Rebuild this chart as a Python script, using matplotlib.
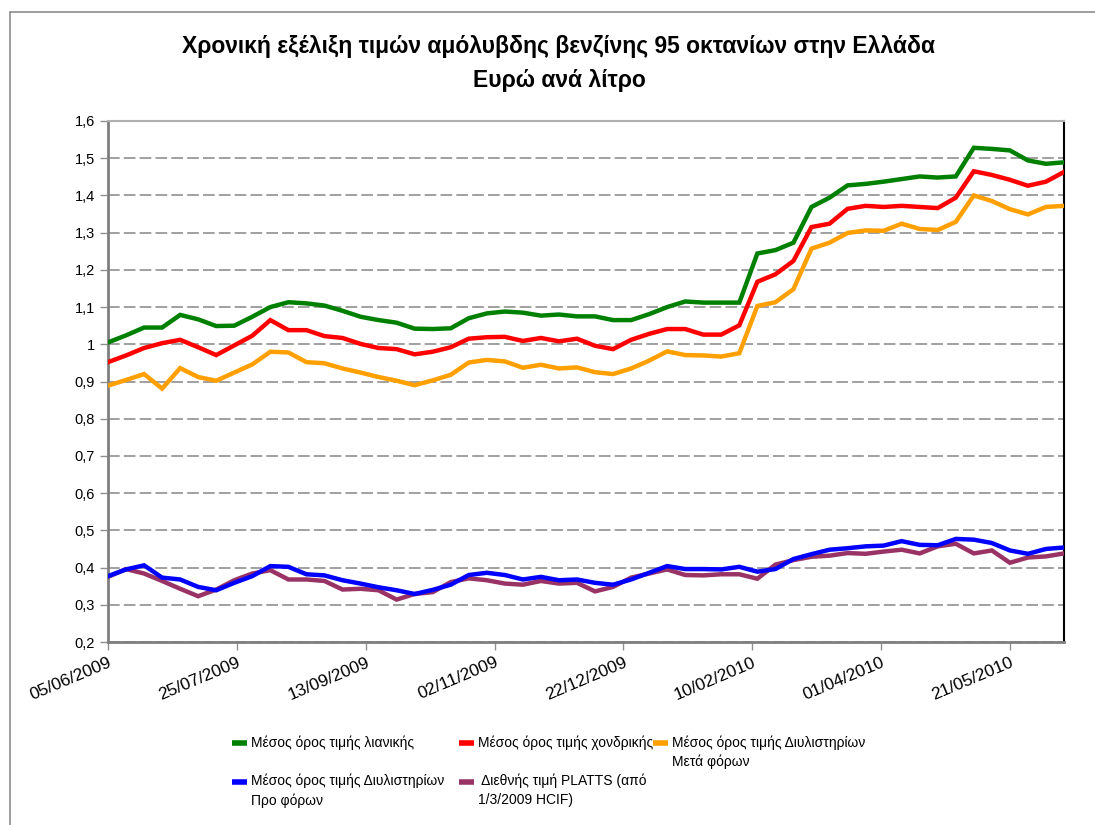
import numpy as np
import pandas as pd
import matplotlib
matplotlib.use("Agg")
import matplotlib.pyplot as plt
import matplotlib.dates as mdates
from matplotlib.lines import Line2D
from matplotlib.patches import Rectangle
from matplotlib.ticker import FuncFormatter, MultipleLocator

plt.rcParams['font.family'] = ['Liberation Sans', 'DejaVu Sans']

# weekly dates
dates = pd.date_range("2009-06-05", periods=54, freq="7D")

# euro / litre
lianiki = [1.005, 1.024, 1.045, 1.045, 1.079, 1.067, 1.049, 1.050, 1.074, 1.100,
           1.113, 1.110, 1.104, 1.090, 1.074, 1.065, 1.058, 1.042, 1.041, 1.043,
           1.070, 1.083, 1.088, 1.085, 1.077, 1.080, 1.075, 1.075, 1.065, 1.065,
           1.081, 1.100, 1.115, 1.112, 1.112, 1.112, 1.244, 1.253, 1.273, 1.369,
           1.394, 1.427, 1.431, 1.437, 1.444, 1.451, 1.448, 1.451, 1.528, 1.525,
           1.521, 1.494, 1.485, 1.489]
xondriki = [0.952, 0.970, 0.990, 1.003, 1.012, 0.992, 0.971, 0.997, 1.023, 1.065,
            1.038, 1.038, 1.022, 1.017, 1.001, 0.990, 0.987, 0.973, 0.980, 0.992,
            1.015, 1.019, 1.020, 1.009, 1.017, 1.008, 1.015, 0.996, 0.987, 1.012,
            1.028, 1.041, 1.041, 1.026, 1.026, 1.051, 1.168, 1.188, 1.224, 1.315,
            1.324, 1.364, 1.372, 1.369, 1.372, 1.369, 1.366, 1.394, 1.465, 1.455,
            1.442, 1.426, 1.437, 1.463]
diyl_meta = [0.889, 0.904, 0.920, 0.881, 0.936, 0.912, 0.902, 0.924, 0.946, 0.980,
             0.978, 0.952, 0.949, 0.935, 0.924, 0.912, 0.902, 0.890, 0.903, 0.918,
             0.951, 0.958, 0.954, 0.937, 0.945, 0.935, 0.938, 0.925, 0.920, 0.935,
             0.956, 0.981, 0.971, 0.970, 0.967, 0.976, 1.103, 1.113, 1.148, 1.257,
             1.273, 1.299, 1.306, 1.305, 1.324, 1.310, 1.307, 1.329, 1.400, 1.385,
             1.363, 1.349, 1.369, 1.372]
diyl_pro = [0.377, 0.395, 0.406, 0.373, 0.368, 0.348, 0.339, 0.359, 0.377, 0.404,
            0.402, 0.382, 0.379, 0.366, 0.357, 0.347, 0.339, 0.329, 0.340, 0.354,
            0.380, 0.386, 0.380, 0.368, 0.375, 0.366, 0.368, 0.359, 0.354, 0.368,
            0.386, 0.404, 0.396, 0.396, 0.395, 0.402, 0.389, 0.396, 0.423, 0.436,
            0.448, 0.452, 0.457, 0.459, 0.471, 0.461, 0.460, 0.477, 0.475, 0.466,
            0.446, 0.437, 0.450, 0.454]
platts = [0.375, 0.396, 0.384, 0.364, 0.343, 0.323, 0.341, 0.366, 0.384, 0.393,
          0.368, 0.368, 0.364, 0.341, 0.343, 0.339, 0.314, 0.329, 0.334, 0.361,
          0.371, 0.366, 0.357, 0.354, 0.364, 0.357, 0.359, 0.336, 0.348, 0.373,
          0.384, 0.395, 0.380, 0.379, 0.382, 0.382, 0.370, 0.408, 0.420, 0.429,
          0.432, 0.439, 0.437, 0.443, 0.448, 0.438, 0.457, 0.464, 0.438, 0.446,
          0.413, 0.427, 0.430, 0.438]

labels = ["Μέσος όρος τιμής λιανικής",
          "Μέσος όρος τιμής χονδρικής",
          "Μέσος όρος τιμής Διυλιστηρίων\nΜετά φόρων",
          "Μέσος όρος τιμής Διυλιστηρίων\nΠρο φόρων",
          " Διεθνής τιμή PLATTS (από\n1/3/2009 HCIF)"]
colors = ["#008000", "#ff0000", "#ffa000", "#0000ff", "#993366"]
series = [lianiki, xondriki, diyl_meta, diyl_pro, platts]
zorders = [5, 5, 5, 5, 4]

W, H = 1095, 825
fig = plt.figure(figsize=(W / 100, H / 100), dpi=100)
ax = fig.add_axes([108 / W, 1 - 642 / H, (1064 - 108) / W, (642 - 121) / H])

for y, c, z in zip(series, colors, zorders):
    ax.plot(dates, y, color=c, lw=3.2, zorder=z, solid_joinstyle='miter')

ax.set_ylim(0.2, 1.6)
ax.set_xlim(dates[0], dates[-1])
ax.yaxis.set_major_locator(MultipleLocator(0.1))

def yfmt(v, pos):
    s = f"{v:.1f}".replace(".", ",")
    return "1" if s == "1,0" else s

ax.yaxis.set_major_formatter(FuncFormatter(yfmt))
ax.grid(axis='y', color='#909090', linestyle=(0, (7, 2.5)), lw=1.2, zorder=1)

xt = pd.date_range("2009-06-05", periods=8, freq="50D")
ax.set_xticks(xt)
ax.xaxis.set_major_formatter(mdates.DateFormatter("%d/%m/%Y"))
ax.tick_params(axis='both', labelsize=10.5, color='#909090', length=6, width=1)
ax.tick_params(axis='x', labelsize=12.5, pad=3)
for lab in ax.get_xticklabels():
    lab.set_rotation(23)
    lab.set_ha('right')
    lab.set_rotation_mode('anchor')

for s in ['left', 'bottom']:
    ax.spines[s].set_color('#7f7f7f')
    ax.spines[s].set_linewidth(2)
ax.spines['right'].set_color('black')
ax.spines['right'].set_linewidth(1.5)
ax.spines['top'].set_color('#b0b0b0')
ax.spines['top'].set_linewidth(1.5)

fig.text(559 / W, 1 - 47 / H, "Χρονική εξέλιξη τιμών αμόλυβδης βενζίνης 95 οκτανίων στην Ελλάδα",
         ha='center', va='center', fontsize=16.5, fontweight='bold')
fig.text(559 / W, 1 - 80 / H, "Ευρώ ανά λίτρο",
         ha='center', va='center', fontsize=16.5, fontweight='bold')

# legend laid out like the original
leg_x = [232, 459, 653, 232, 459]
leg_y = [743, 743, 743, 782, 782]
for lab, c, x0, y0 in zip(labels, colors, leg_x, leg_y):
    fig.add_artist(Line2D([x0 / W, (x0 + 15) / W], [1 - y0 / H, 1 - y0 / H],
                          color=c, lw=4, solid_capstyle='butt'))
    fig.text((x0 + 19) / W, 1 - (y0 - 8) / H, lab, ha='left', va='top',
             fontsize=10, linespacing=1.45)

fig.add_artist(Rectangle((10 / W, -0.01), 1.0, 1 - 12 / H + 0.01,
                         transform=fig.transFigure, fill=False,
                         edgecolor='#8c8c8c', lw=1.2))

fig.savefig("out.png", dpi=100)
